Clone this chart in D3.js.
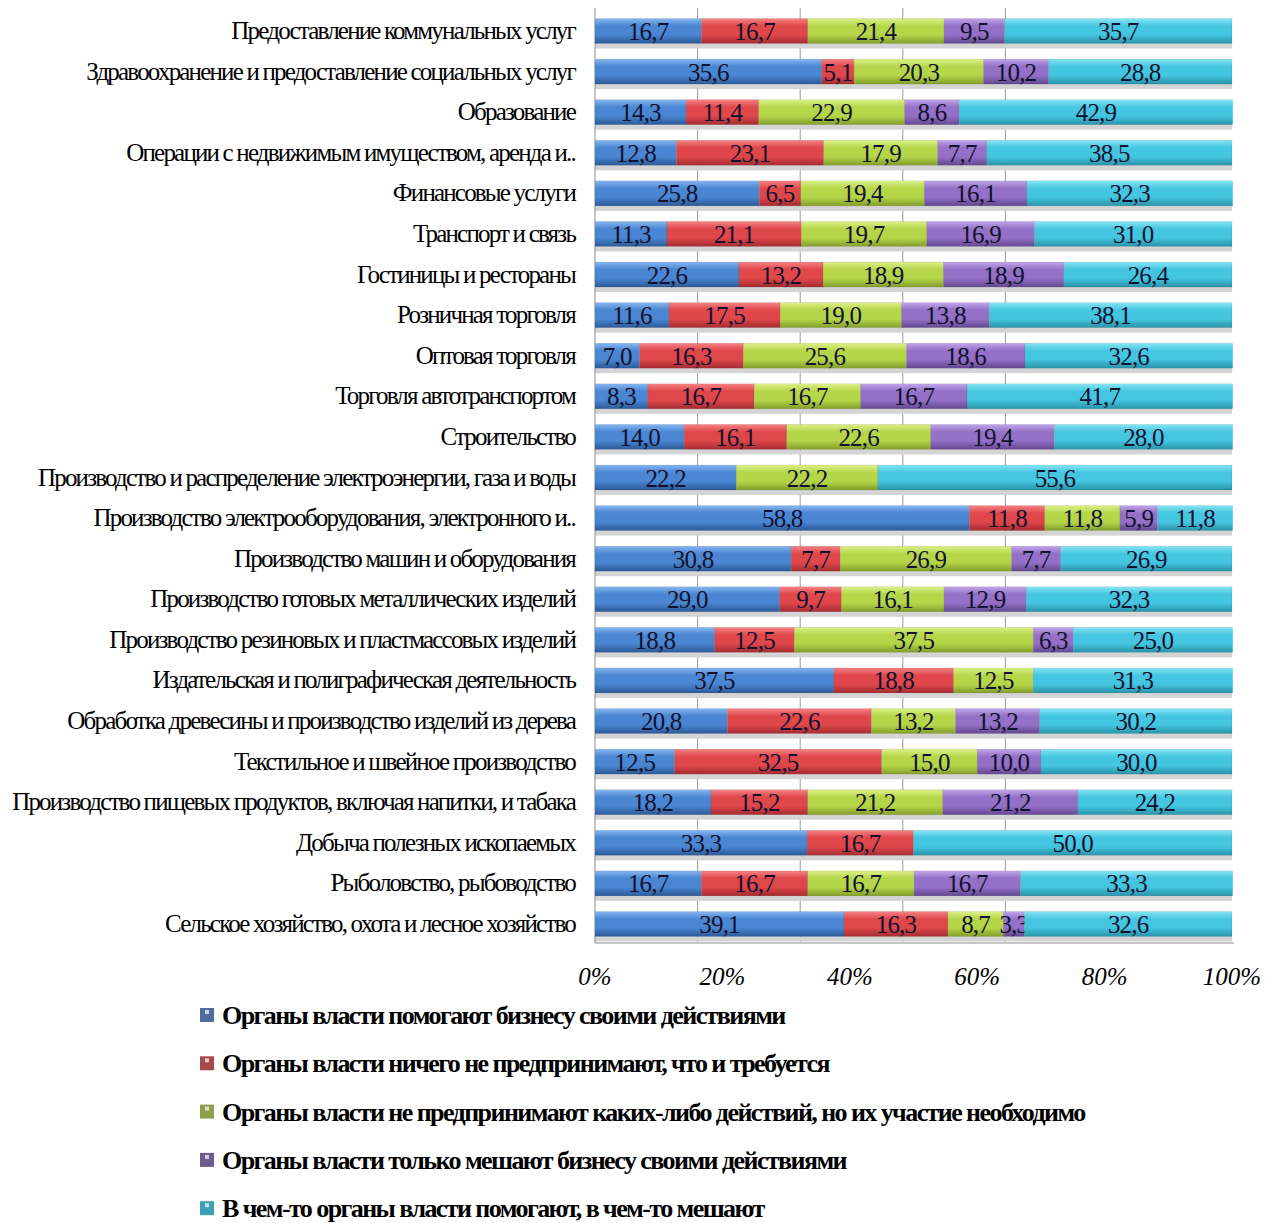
<!DOCTYPE html>
<html>
<head>
<meta charset="utf-8">
<script src="https://cdn.jsdelivr.net/npm/d3@7"></script>
<style>
  body { margin: 0; background: #fff; }
  svg { display: block; }
</style>
</head>
<body>
<svg id="chart" width="1265" height="1223"></svg>
<script>
// Data
const categories = [
    'Предоставление коммунальных услуг',
    'Здравоохранение и предоставление социальных услуг',
    'Образование',
    'Операции с недвижимым имуществом, аренда и..',
    'Финансовые услуги',
    'Транспорт и связь',
    'Гостиницы и рестораны',
    'Розничная торговля',
    'Оптовая торговля',
    'Торговля автотранспортом',
    'Строительство',
    'Производство и распределение электроэнергии, газа и воды',
    'Производство электрооборудования, электронного и..',
    'Производство машин и оборудования',
    'Производство готовых металлических изделий',
    'Производство резиновых и пластмассовых изделий',
    'Издательская и полиграфическая деятельность',
    'Обработка древесины и производство изделий из дерева',
    'Текстильное и швейное производство',
    'Производство пищевых продуктов, включая напитки, и табака',
    'Добыча полезных ископаемых',
    'Рыболовство, рыбоводство',
    'Сельское хозяйство, охота и лесное хозяйство'
];

const seriesNames = [
    'Органы власти помогают бизнесу своими действиями',
    'Органы власти ничего не предпринимают, что и требуется',
    'Органы власти не предпринимают каких-либо действий, но их участие необходимо',
    'Органы власти только мешают бизнесу своими действиями',
    'В чем-то органы власти помогают, в чем-то мешают'
];

const helps    = [16.7, 35.6, 14.3, 12.8, 25.8, 11.3, 22.6, 11.6, 7.0, 8.3, 14.0, 22.2, 58.8, 30.8, 29.0, 18.8, 37.5, 20.8, 12.5, 18.2, 33.3, 16.7, 39.1];
const nothingOk = [16.7, 5.1, 11.4, 23.1, 6.5, 21.1, 13.2, 17.5, 16.3, 16.7, 16.1, 0, 11.8, 7.7, 9.7, 12.5, 18.8, 22.6, 32.5, 15.2, 16.7, 16.7, 16.3];
const needed   = [21.4, 20.3, 22.9, 17.9, 19.4, 19.7, 18.9, 19.0, 25.6, 16.7, 22.6, 22.2, 11.8, 26.9, 16.1, 37.5, 12.5, 13.2, 15.0, 21.2, 0, 16.7, 8.7];
const hinders  = [9.5, 10.2, 8.6, 7.7, 16.1, 16.9, 18.9, 13.8, 18.6, 16.7, 19.4, 0, 5.9, 7.7, 12.9, 6.3, 0, 13.2, 10.0, 21.2, 0, 16.7, 3.3];
const mixed    = [35.7, 28.8, 42.9, 38.5, 32.3, 31.0, 26.4, 38.1, 32.6, 41.7, 28.0, 55.6, 11.8, 26.9, 32.3, 25.0, 31.3, 30.2, 30.0, 24.2, 50.0, 33.3, 32.6];

const xTicks = [0, 20, 40, 60, 80, 100];

// Colors: [light, base, dark] for bar gradients, plus legend marker colour
const colors = [
    {light: '#86b6f0', base: '#4a86d2', dark: '#2c5a98', legend: '#4f6d9e'},
    {light: '#f58284', base: '#e0474b', dark: '#a42c31', legend: '#a94a4a'},
    {light: '#dcf088', base: '#b6d64a', dark: '#829e2a', legend: '#8e9f4e'},
    {light: '#c0a4ea', base: '#9471c6', dark: '#634790', legend: '#6e5d8e'},
    {light: '#86e4f4', base: '#45c6e0', dark: '#2893a9', legend: '#3f9fb2'}
];

const serif = '"Liberation Serif", "DejaVu Serif", serif';

const table = categories.map((c, i) => ({
    category: c,
    s0: helps[i], s1: nothingOk[i], s2: needed[i], s3: hinders[i], s4: mixed[i]
}));
const keys = ['s0', 's1', 's2', 's3', 's4'];

const stack = d3.stack().keys(keys);
const stacked = stack(table);

// Scales
const x = d3.scaleLinear().domain([0, 100]).range([595, 1232]);
const wall = d3.scaleLinear().domain([0, 100]).range([595, 1108]); // back wall gridlines (perspective)
const y = d3.scalePoint().domain(categories).range([31, 924]);
const barH = 25;

const svg = d3.select('#chart');
const defs = svg.append('defs');

colors.forEach((c, i) => {
    const g = defs.append('linearGradient')
        .attr('id', 'grad' + i)
        .attr('x1', 0).attr('y1', 0).attr('x2', 0).attr('y2', 1);
    g.append('stop').attr('offset', '0%').attr('stop-color', c.light);
    g.append('stop').attr('offset', '30%').attr('stop-color', c.base);
    g.append('stop').attr('offset', '65%').attr('stop-color', c.base);
    g.append('stop').attr('offset', '100%').attr('stop-color', c.dark);
});

// Back wall gridlines
svg.append('g')
    .selectAll('line')
    .data(xTicks.slice(1, 5))
    .join('line')
    .attr('x1', d => wall(d)).attr('x2', d => wall(d))
    .attr('y1', 8).attr('y2', 942)
    .attr('stroke', '#9a9a9a')
    .attr('stroke-width', 1);

// Shadows under rows
svg.append('g')
    .selectAll('rect')
    .data(categories)
    .join('rect')
    .attr('x', x(0))
    .attr('y', d => y(d) + barH / 2)
    .attr('width', x(100) - x(0))
    .attr('height', 5)
    .attr('fill', '#d4d4d4');

svg.append('line')
    .attr('x1', x(0)).attr('x2', x(0))
    .attr('y1', 8).attr('y2', 943)
    .attr('stroke', '#8c8c8c');
svg.append('line')
    .attr('x1', x(0)).attr('x2', x(100) + 2)
    .attr('y1', 943).attr('y2', 943)
    .attr('stroke', '#8c8c8c');

// Bars
const layers = svg.append('g')
    .selectAll('g')
    .data(stacked)
    .join('g')
    .attr('fill', (d, i) => `url(#grad${i})`);

layers.selectAll('rect')
    .data(d => d.filter(p => p[1] - p[0] > 0))
    .join('rect')
    .attr('x', d => x(d[0]))
    .attr('y', d => y(d.data.category) - barH / 2)
    .attr('width', d => x(d[1]) - x(d[0]))
    .attr('height', barH)
    .attr('stroke', 'rgba(0,0,0,0.15)')
    .attr('stroke-width', 0.5);

// Value labels
const fmt = v => v.toFixed(1).replace('.', ',');
layers.selectAll('text')
    .data(d => d.filter(p => p[1] - p[0] > 0))
    .join('text')
    .attr('x', d => x((d[0] + d[1]) / 2))
    .attr('y', d => y(d.data.category) + 9)
    .attr('text-anchor', 'middle')
    .attr('font-family', serif)
    .attr('font-size', 25)
    .attr('letter-spacing', -0.8)
    .attr('fill', '#121230')
    .text(d => fmt(d[1] - d[0]));

// Category labels
svg.append('g')
    .selectAll('text')
    .data(categories)
    .join('text')
    .attr('x', 575)
    .attr('y', d => y(d) + 8)
    .attr('text-anchor', 'end')
    .attr('font-family', serif)
    .attr('font-size', 25)
    .attr('letter-spacing', -1.8)
    .attr('fill', '#000')
    .text(d => d);

// X axis tick labels
svg.append('g')
    .selectAll('text')
    .data(xTicks)
    .join('text')
    .attr('x', d => x(d))
    .attr('y', 985)
    .attr('text-anchor', 'middle')
    .attr('font-family', serif)
    .attr('font-style', 'italic')
    .attr('font-size', 25)
    .attr('fill', '#000')
    .text(d => d + '%');

// Legend
const legend = svg.append('g')
    .selectAll('g')
    .data(seriesNames)
    .join('g')
    .attr('transform', (d, i) => `translate(200, ${1015 + i * 48.3})`);

legend.append('rect')
    .attr('x', 0).attr('y', -7)
    .attr('width', 14).attr('height', 14)
    .attr('fill', (d, i) => colors[i].legend);
legend.append('rect')
    .attr('x', 5).attr('y', -5)
    .attr('width', 4).attr('height', 4)
    .attr('fill', 'rgba(255,255,255,0.7)');

legend.append('text')
    .attr('x', 22)
    .attr('y', 9)
    .attr('font-family', serif)
    .attr('font-weight', 'bold')
    .attr('font-size', 26)
    .attr('letter-spacing', -1.57)
    .attr('fill', '#000')
    .text(d => d);
</script>
</body>
</html>
